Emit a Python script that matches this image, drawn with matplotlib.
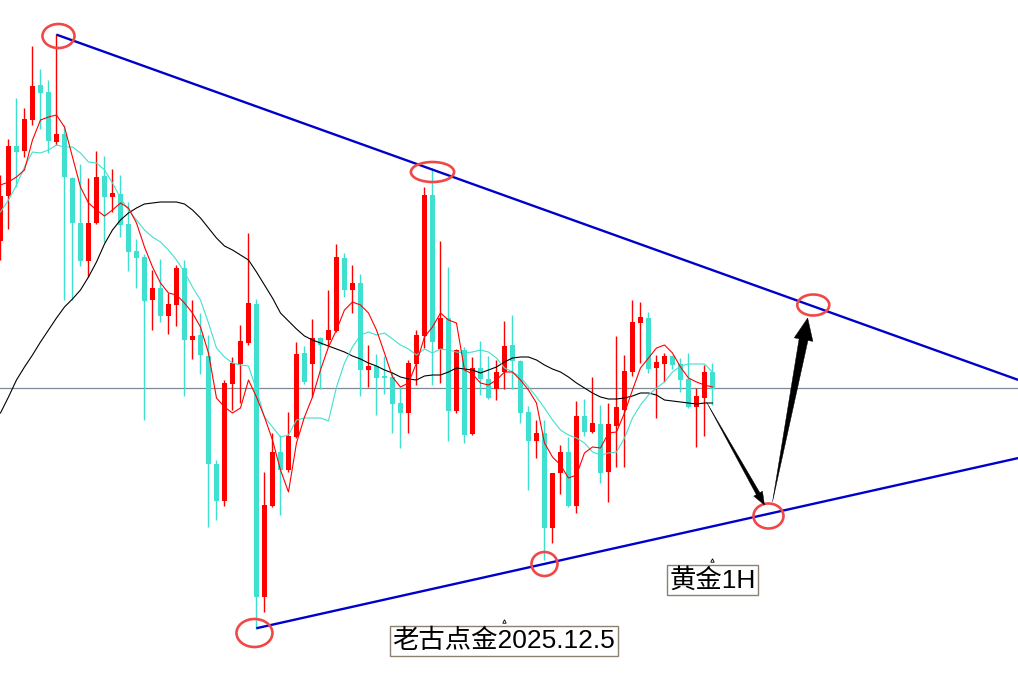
import numpy as np
import matplotlib
matplotlib.use("Agg")
import matplotlib.pyplot as plt
from matplotlib.patches import Ellipse, Polygon
from matplotlib.transforms import IdentityTransform

# gold 1H candles, one entry per bar
opens = [4251.8, 4260.8, 4270.8, 4269.8, 4276.0, 4283.0, 4281.6, 4271.6, 4273.2, 4264.4,
         4255.4, 4247.8, 4255.4, 4264.8, 4260.6, 4261.2, 4255.2, 4249.8, 4248.6, 4240.0,
         4242.4, 4236.8, 4239.0, 4246.4, 4232.0, 4233.0, 4228.8, 4207.2, 4199.8, 4223.2,
         4227.2, 4231.4, 4239.2, 4180.6, 4198.8, 4209.6, 4206.0, 4212.6, 4229.4, 4227.2,
         4232.4, 4232.0, 4233.8, 4248.4, 4242.0, 4243.4, 4226.0, 4226.8, 4224.8, 4224.6,
         4219.4, 4217.4, 4227.2, 4232.8, 4261.0, 4230.2, 4236.4, 4217.8, 4230.0, 4213.2,
         4226.4, 4224.2, 4222.2, 4225.6, 4231.0, 4227.8, 4217.6, 4211.8, 4213.4, 4194.4,
         4205.4, 4209.6, 4198.8, 4216.8, 4213.6, 4215.2, 4205.6, 4214.8, 4218.0, 4225.6,
         4235.4, 4236.4, 4226.4, 4227.2, 4228.8, 4227.2, 4224.2, 4218.6, 4220.4, 4225.6]
highs = [4265.0, 4272.2, 4280.4, 4278.4, 4290.8, 4286.2, 4284.0, 4293.2, 4275.0, 4264.6,
         4267.2, 4264.4, 4269.8, 4268.8, 4266.2, 4265.0, 4259.6, 4252.2, 4249.2, 4246.0,
         4248.2, 4241.4, 4247.0, 4248.0, 4240.0, 4237.4, 4233.0, 4208.0, 4224.0, 4228.6,
         4235.0, 4253.4, 4240.2, 4205.6, 4213.4, 4213.0, 4217.6, 4231.6, 4230.8, 4236.2,
         4232.6, 4242.0, 4251.2, 4249.4, 4247.0, 4245.2, 4231.0, 4229.2, 4228.8, 4225.6,
         4222.6, 4228.0, 4234.0, 4262.6, 4266.4, 4251.8, 4246.6, 4230.2, 4230.6, 4228.6,
         4231.8, 4228.8, 4228.0, 4235.8, 4237.0, 4228.0, 4218.8, 4216.0, 4216.0, 4205.4,
         4211.0, 4212.6, 4219.8, 4220.2, 4224.6, 4219.0, 4219.4, 4232.8, 4229.0, 4240.0,
         4239.6, 4237.6, 4229.0, 4229.4, 4229.0, 4228.4, 4229.4, 4222.4, 4227.0, 4227.4]
lows = [4248.0, 4254.2, 4262.6, 4268.6, 4275.0, 4274.2, 4269.4, 4271.0, 4240.0, 4240.0,
        4246.8, 4244.6, 4255.2, 4251.6, 4257.6, 4252.6, 4245.8, 4242.4, 4216.0, 4234.0,
        4235.6, 4233.2, 4234.8, 4220.8, 4228.2, 4225.2, 4194.6, 4196.0, 4198.8, 4218.0,
        4219.4, 4231.0, 4174.2, 4177.6, 4198.6, 4197.0, 4205.6, 4212.4, 4223.2, 4220.6,
        4222.2, 4230.6, 4233.6, 4240.6, 4237.4, 4220.8, 4222.6, 4217.0, 4221.2, 4213.4,
        4210.4, 4213.4, 4223.0, 4230.4, 4223.0, 4223.4, 4211.8, 4217.4, 4211.4, 4213.0,
        4221.0, 4220.2, 4220.0, 4222.2, 4222.2, 4215.4, 4202.0, 4208.4, 4188.0, 4191.4,
        4201.2, 4198.6, 4197.4, 4212.8, 4213.4, 4203.4, 4199.6, 4206.6, 4206.6, 4224.8,
        4227.4, 4225.4, 4216.4, 4223.6, 4226.2, 4221.6, 4218.4, 4210.6, 4212.8, 4219.0]
closes = [4260.8, 4270.8, 4269.6, 4276.2, 4282.8, 4281.4, 4271.8, 4273.2, 4264.6, 4255.4,
          4247.8, 4255.4, 4264.6, 4260.6, 4261.4, 4255.0, 4249.6, 4248.4, 4239.8, 4242.4,
          4236.8, 4239.2, 4246.4, 4232.0, 4232.8, 4229.0, 4207.2, 4199.8, 4223.4, 4227.4,
          4231.8, 4239.4, 4180.6, 4199.0, 4209.6, 4206.0, 4212.8, 4229.2, 4223.6, 4232.4,
          4231.0, 4234.0, 4248.6, 4242.0, 4243.4, 4226.0, 4226.8, 4224.4, 4224.4, 4219.2,
          4217.4, 4227.4, 4233.0, 4261.0, 4231.6, 4236.4, 4217.8, 4230.0, 4213.0, 4226.4,
          4224.2, 4220.4, 4225.6, 4230.8, 4227.8, 4217.4, 4211.8, 4213.4, 4194.4, 4205.4,
          4209.6, 4198.8, 4216.8, 4213.6, 4215.4, 4205.4, 4215.2, 4218.6, 4225.8, 4235.6,
          4236.6, 4226.2, 4227.6, 4228.8, 4227.0, 4224.0, 4218.6, 4220.8, 4225.6, 4222.2]

# the three moving average lines as they appear on the chart
ma_fast = [4263.0, 4263.6, 4264.6, 4266.0, 4272.0, 4276.0, 4276.6, 4277.0, 4274.6, 4268.6,
           4262.6, 4259.4, 4258.0, 4256.8, 4258.0, 4259.4, 4258.4, 4255.4, 4250.6, 4246.6,
           4243.4, 4241.4, 4241.0, 4239.4, 4237.4, 4234.6, 4229.4, 4220.4, 4218.6, 4217.4,
           4218.4, 4224.0, 4220.6, 4216.6, 4212.0, 4206.0, 4201.6, 4211.4, 4216.6, 4220.6,
           4226.0, 4230.6, 4234.0, 4238.0, 4239.6, 4239.0, 4237.4, 4234.0, 4229.4, 4224.6,
           4222.6, 4223.4, 4227.4, 4232.6, 4234.6, 4237.4, 4236.0, 4235.4, 4226.0, 4225.2,
           4223.4, 4223.0, 4224.0, 4225.6, 4225.6, 4224.0, 4222.0, 4219.4, 4211.4, 4208.6,
           4207.0, 4204.4, 4205.0, 4209.4, 4210.6, 4210.4, 4213.4, 4213.6, 4217.4, 4222.0,
           4226.4, 4228.4, 4230.4, 4231.0, 4229.4, 4226.6, 4224.4, 4223.6, 4223.0, 4222.6]
ma_mid = [4257.6, 4260.0, 4263.0, 4266.6, 4269.6, 4269.4, 4270.0, 4271.0, 4270.6, 4270.6,
          4269.4, 4267.6, 4267.4, 4266.0, 4263.4, 4260.4, 4258.0, 4256.0, 4254.0, 4252.6,
          4251.6, 4250.0, 4248.0, 4245.6, 4242.6, 4240.0, 4235.4, 4230.4, 4228.6, 4227.4,
          4227.0, 4226.8, 4222.0, 4216.6, 4214.6, 4212.6, 4213.0, 4216.0, 4216.4, 4216.4,
          4216.4, 4215.8, 4222.6, 4227.4, 4230.6, 4233.0, 4233.6, 4233.0, 4233.4, 4232.2,
          4231.0, 4230.2, 4229.0, 4230.2, 4229.4, 4230.2, 4230.0, 4229.6, 4229.4, 4229.6,
          4230.0, 4229.6, 4228.4, 4226.4, 4225.6, 4224.6, 4222.6, 4220.6, 4218.4, 4216.0,
          4214.0, 4213.0, 4212.4, 4211.4, 4209.6, 4209.0, 4209.4, 4209.6, 4212.4, 4216.4,
          4219.0, 4221.0, 4222.4, 4223.6, 4225.6, 4226.8, 4227.2, 4227.2, 4227.2, 4225.6]
ma_slow = [4217.4, 4220.6, 4224.0, 4226.6, 4229.0, 4231.6, 4234.0, 4236.4, 4238.6, 4240.2,
           4242.0, 4244.6, 4247.6, 4251.2, 4254.0, 4256.0, 4257.4, 4258.4, 4259.2, 4259.4,
           4259.6, 4259.6, 4259.6, 4259.2, 4258.0, 4256.4, 4254.4, 4252.4, 4250.8, 4250.0,
           4249.0, 4248.0, 4245.6, 4243.0, 4240.4, 4237.4, 4235.8, 4234.2, 4232.8, 4232.0,
           4231.4, 4230.8, 4230.2, 4229.6, 4228.8, 4228.2, 4227.4, 4226.8, 4226.0, 4225.4,
           4224.6, 4224.2, 4224.0, 4224.8, 4225.0, 4225.0, 4225.6, 4226.4, 4226.2, 4226.0,
           4225.4, 4226.0, 4226.6, 4227.6, 4228.4, 4228.6, 4228.6, 4228.0, 4227.0, 4226.2,
           4225.6, 4224.6, 4223.4, 4222.4, 4221.4, 4220.6, 4220.2, 4220.2, 4220.4, 4220.8,
           4221.4, 4221.4, 4221.0, 4220.0, 4219.8, 4219.6, 4219.4, 4219.2, 4219.4, 4219.4]

# current price line
last_price = 4222.4

# triangle drawn by hand: (bar, price) end points
upper_line_x = [7.125, 127.25]
upper_line_y = [4293.0, 4224.0]
lower_line_x = [32.125, 127.25]
lower_line_y = [4174.4, 4208.4]

# red circles: centre bar, centre price, width (bars), height (price)
circle_x = [7.25, 54.0, 31.75, 68.0, 96.0, 101.6]
circle_y = [4292.8, 4265.6, 4173.4, 4187.2, 4196.8, 4239.0]
circle_w = [4.0, 5.4, 4.5, 3.25, 3.75, 4.0]
circle_h = [4.8, 4.0, 5.6, 4.8, 5.0, 4.2]

# arrows: (start bar, start price) -> (end bar, end price)
arrow_start = [(88.25, 4219.6), (96.5, 4199.6)]
arrow_end = [(95.5, 4199.0), (100.9, 4236.4)]

labels = ["黄金1H", "老古点金2025.12.5"]
label_x = [89.0, 62.9]
label_y = [4184.0, 4171.8]

UP = "#ff0000"
DOWN = "#40e0d0"

plt.rcParams["font.family"] = ["Liberation Sans", "Noto Sans CJK SC", "DejaVu Sans"]

fig = plt.figure(figsize=(10.18, 7.0), dpi=100)
ax = fig.add_axes([0, 0, 1, 1])
ax.set_xlim(-0.06, 127.19)
ax.set_ylim(4160, 4300)
ax.axis("off")

o = np.array(opens)
h = np.array(highs)
l = np.array(lows)
c = np.array(closes)
x = np.arange(len(o))
colors = [UP if cc >= oo else DOWN for oo, cc in zip(o, c)]

ax.axhline(last_price, color="#7f8a96", lw=0.9, zorder=1)

# wicks then bodies
ax.vlines(x, l, h, colors=colors, lw=1.0, zorder=2)
body_h = np.maximum(np.abs(c - o), 0.4)
ax.bar(x, body_h, bottom=np.minimum(o, c), width=0.62, color=colors,
       linewidth=0, zorder=3)

# moving averages on top of the candles
ax.plot(x, ma_slow, color="black", lw=0.8, zorder=4)
ax.plot(x, ma_mid, color=DOWN, lw=0.8, zorder=4)
ax.plot(x, ma_fast, color=UP, lw=0.8, zorder=4)

# triangle lines
ax.plot(upper_line_x, upper_line_y, color="#0000cc", lw=1.7, zorder=5)
ax.plot(lower_line_x, lower_line_y, color="#0000cc", lw=1.7, zorder=5)

for cx, cy, w, hh in zip(circle_x, circle_y, circle_w, circle_h):
    ax.add_patch(Ellipse((cx, cy), w, hh, fill=False, edgecolor="#f04848",
                         lw=1.9, zorder=6))


# tapered black arrow, built in pixel space so the head keeps its shape
def draw_arrow(start, end, shaft_w, head_w, head_len):
    p0 = ax.transData.transform(start)
    p1 = ax.transData.transform(end)
    d = (p1 - p0) / np.hypot(*(p1 - p0))
    n = np.array([-d[1], d[0]])
    base = p1 - d * head_len
    pts = [p0,
           base + n * shaft_w / 2, base + n * head_w / 2, p1,
           base - n * head_w / 2, base - n * shaft_w / 2]
    fig.add_artist(Polygon(pts, closed=True, facecolor="black", edgecolor="black",
                           lw=0.3, transform=IdentityTransform(), zorder=7))


draw_arrow(arrow_start[0], arrow_end[0], 4, 10, 13)
draw_arrow(arrow_start[1], arrow_end[1], 9, 19, 22)

# text labels with their little anchor marks
for txt, tx, ty in zip(labels, label_x, label_y):
    ax.text(tx, ty, txt, fontsize=19, ha="center", va="center", zorder=8,
            bbox=dict(boxstyle="square,pad=0.1", facecolor="white",
                      edgecolor="#8c8070", lw=1.0))
    ax.plot(tx, ty + 4.0, marker="^", markersize=2.5, color="black",
            fillstyle="none", markeredgewidth=0.6, zorder=8)

plt.savefig("out.png", dpi=100)
plt.close()
